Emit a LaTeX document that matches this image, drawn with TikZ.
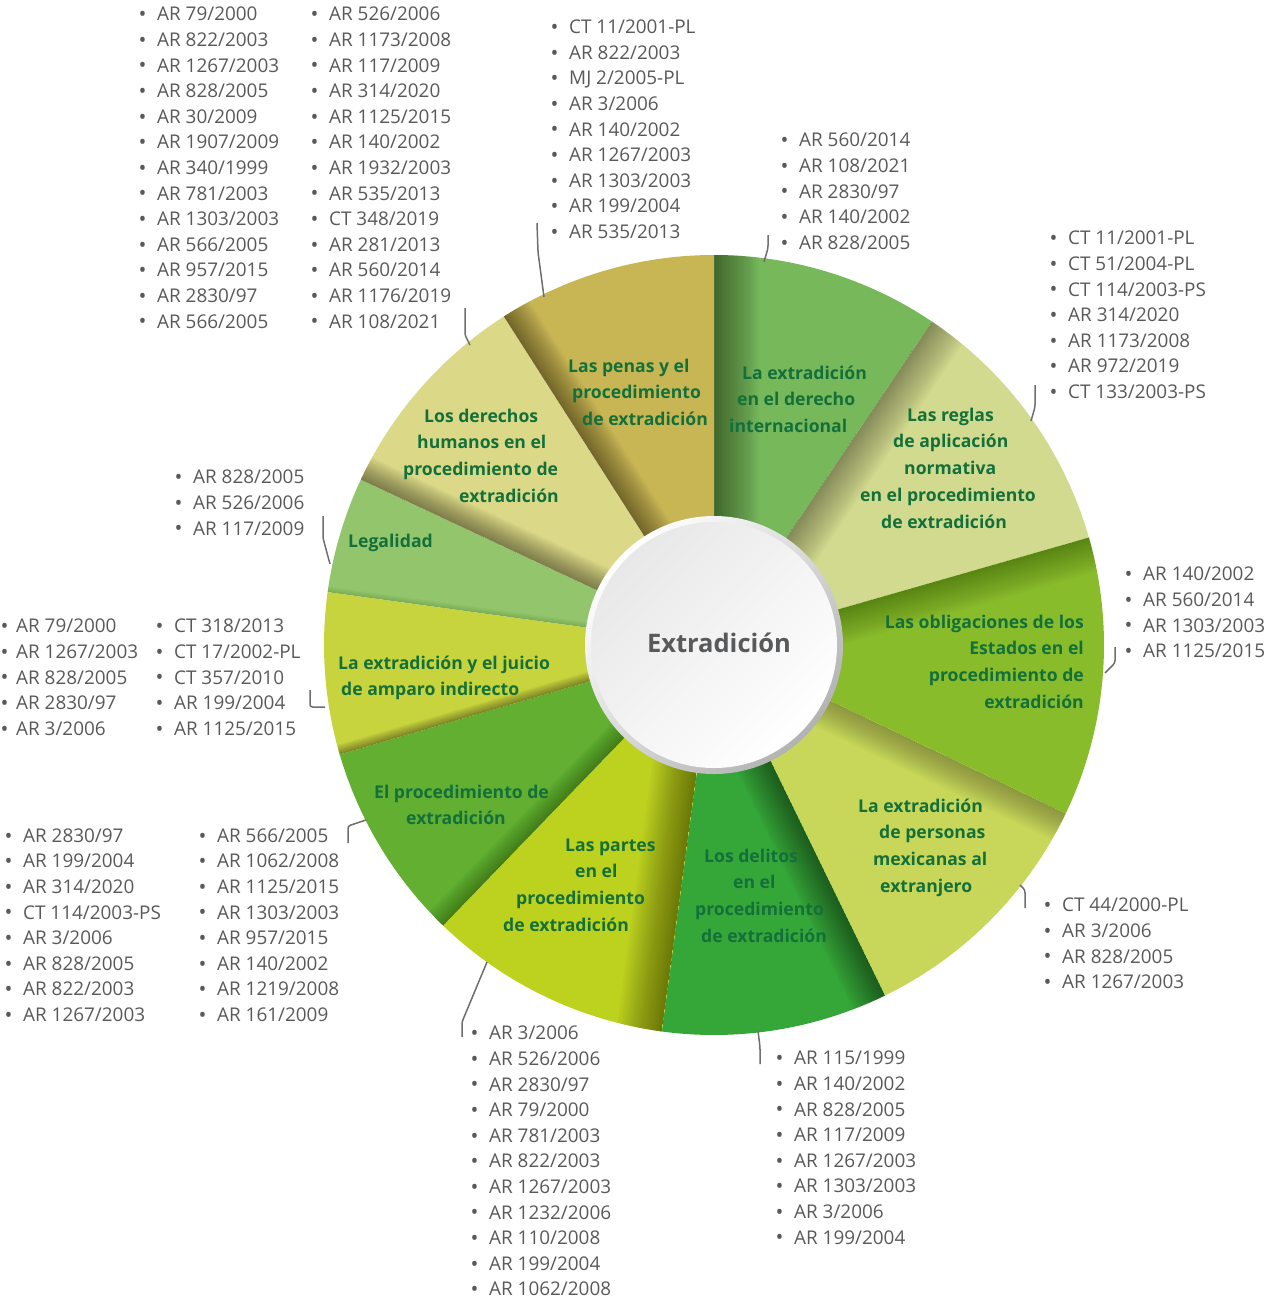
\documentclass[tikz,border=0pt]{standalone}
\usepackage{fontspec}
\setmainfont{Open Sans}
\usetikzlibrary{calc}
\definecolor{cInt}{HTML}{77B85B}
\definecolor{cReg}{HTML}{D2DA8F}
\definecolor{cObl}{HTML}{88BC2B}
\definecolor{cMex}{HTML}{C8D75A}
\definecolor{cDel}{HTML}{35A739}
\definecolor{cPar}{HTML}{BDD11F}
\definecolor{cPro}{HTML}{62AF31}
\definecolor{cJui}{HTML}{C7D43D}
\definecolor{cLeg}{HTML}{92C56C}
\definecolor{cDer}{HTML}{DBD987}
\definecolor{cPen}{HTML}{C8B655}
\definecolor{lblgreen}{HTML}{14703A}
\definecolor{txtgray}{HTML}{58595B}
\definecolor{linegray}{HTML}{6D6E70}
\newcommand\blt{\makebox[17pt][l]{\hspace*{-1.5pt}\raisebox{-0.8pt}{\fontsize{21}{21}\selectfont •}}}
\newcommand\bltn{\makebox[14pt][l]{\hspace*{-1.5pt}\raisebox{-0.8pt}{\fontsize{21}{21}\selectfont •}}}
\newcommand\st{\rule{0pt}{15pt}}
% sector: #1 shadow-edge angle, #2 other angle, #3 colour, #4 shadow width, #5 band opacity
\newcommand\wsector[5]{%
  \fill[#3] (0,0) -- (#1:390) arc[start angle=#1, end angle=#2, radius=390] -- cycle;
  \begin{scope}
    \clip (0,0) -- (#1:390) arc[start angle=#1, end angle=#2, radius=390] -- cycle;
    \foreach \k in {1,...,24}{%
      \pgfmathsetmacro\dd{#4*\k/24}%
      \fill[black, fill opacity=#5] (0,0) -- ++(#1:400) -- ++(#1+90:\dd) -- ++(#1+180:400) -- cycle;
    }
  \end{scope}
}
\tikzset{
  lst/.style={font=\fontsize{18.9}{25.6}\selectfont, text=txtgray, align=left, inner sep=0pt, anchor=north west},
  lbl/.style={font=\fontsize{17.6}{26.7}\selectfont\bfseries, text=lblgreen, align=left, inner sep=0pt, anchor=north west},
  leader/.style={draw=linegray, line width=1.5pt, rounded corners=2.5pt},
}
\begin{document}
\begin{tikzpicture}[x=1pt,y=-1pt]
\useasboundingbox (0,0) rectangle (1280,1301);
% wheel
\begin{scope}[shift={(714,645)}]
  \wsector{-90}{-56}{cInt}{45}{0.0197}
  \wsector{-56}{-16}{cReg}{38}{0.0159}
  \wsector{-16}{25.6}{cObl}{35}{0.0119}
  \wsector{25.6}{64}{cMex}{30}{0.0136}
  \wsector{64}{97.7}{cDel}{35}{0.0178}
  \wsector{97.7}{134}{cPar}{45}{0.0197}
  \wsector{134}{163.7}{cPro}{20}{0.0136}
  \wsector{163.7}{187.8}{cJui}{10}{0.0148}
  \wsector{187.8}{205.1}{cLeg}{6}{0.0053}
  \wsector{205.1}{237.4}{cDer}{25}{0.0178}
  \wsector{237.4}{270}{cPen}{30}{0.0211}
  \shade[top color=white, bottom color=black!30, shading angle=45] (0,0) circle[radius=129];
  \shade[top color=black!9, bottom color=white, shading angle=45] (0,0) circle[radius=123];
\end{scope}
\node[font=\fontsize{25.5}{30}\selectfont\bfseries, text=txtgray, anchor=base, inner sep=0pt] (ctr) at (719,652) {Extradición};
% labels in the sectors
\node[lbl] (tInt) at (729,364) {\st\hspace*{13pt}La extradición\\\hspace*{8pt}en el derecho\\internacional};
\node[lbl] (tReg) at (860,406) {\st\hspace*{47pt}Las reglas\\\hspace*{33pt}de aplicación\\\hspace*{44pt}normativa\\en el procedimiento\\\hspace*{21pt}de extradición};
\node[lbl, align=right, anchor=north east] (tObl) at (1084,613) {\st Las obligaciones de los\\Estados en el\\procedimiento de\\extradición};
\node[lbl] (tMex) at (858,797) {\st La extradición\\\hspace*{21pt}de personas\\\hspace*{15pt}mexicanas al\\\hspace*{22pt}extranjero};
\node[lbl] (tDel) at (695,847) {\st\hspace*{9pt}Los delitos\\\hspace*{38pt}en el\\procedimiento\\\hspace*{6pt}de extradición};
\node[lbl] (tPar) at (503,836) {\st\hspace*{62pt}Las partes\\\hspace*{72pt}en el\\\hspace*{13pt}procedimiento\\de extradición};
\node[lbl] (tPro) at (374,783) {\st El procedimiento de\\\hspace*{32pt}extradición};
\node[lbl] (tJui) at (338,654) {\st La extradición y el juicio\\\hspace*{3pt}de amparo indirecto};
\node[lbl] (tLeg) at (348,532) {\st Legalidad};
\node[lbl] (tDer) at (403,407) {\st\hspace*{21pt}Los derechos\\\hspace*{14pt}humanos en el\\procedimiento de\\\hspace*{56pt}extradición};
\node[lbl] (tPen) at (568,357) {\st Las penas y el\\\hspace*{4pt}procedimiento\\\hspace*{14pt}de extradición};
% lists
\node[lst] (lA1) at (140,5.7) {\st\blt AR 79/2000\\\blt AR 822/2003\\\blt AR 1267/2003\\\blt AR 828/2005\\\blt AR 30/2009\\\blt AR 1907/2009\\\blt AR 340/1999\\\blt AR 781/2003\\\blt AR 1303/2003\\\blt AR 566/2005\\\blt AR 957/2015\\\blt AR 2830/97\\\blt AR 566/2005};
\node[lst] (lA2) at (312,5.7) {\st\blt AR 526/2006\\\blt AR 1173/2008\\\blt AR 117/2009\\\blt AR 314/2020\\\blt AR 1125/2015\\\blt AR 140/2002\\\blt AR 1932/2003\\\blt AR 535/2013\\\blt CT 348/2019\\\blt AR 281/2013\\\blt AR 560/2014\\\blt AR 1176/2019\\\blt AR 108/2021};
\node[lst] (lB) at (552,18.4) {\st\blt CT 11/2001-PL\\\blt AR 822/2003\\\blt MJ 2/2005-PL\\\blt AR 3/2006\\\blt AR 140/2002\\\blt AR 1267/2003\\\blt AR 1303/2003\\\blt AR 199/2004\\\blt AR 535/2013};
\node[lst] (lC) at (782,131.7) {\st\blt AR 560/2014\\\blt AR 108/2021\\\blt AR 2830/97\\\blt AR 140/2002\\\blt AR 828/2005};
\node[lst] (lD) at (1051,229.7) {\st\blt CT 11/2001-PL\\\blt CT 51/2004-PL\\\blt CT 114/2003-PS\\\blt AR 314/2020\\\blt AR 1173/2008\\\blt AR 972/2019\\\blt CT 133/2003-PS};
\node[lst] (lE) at (1126,565.7) {\st\blt AR 140/2002\\\blt AR 560/2014\\\blt AR 1303/2003\\\blt AR 1125/2015};
\node[lst] (lF) at (1045,896.7) {\st\blt CT 44/2000-PL\\\blt AR 3/2006\\\blt AR 828/2005\\\blt AR 1267/2003};
\node[lst] (lG) at (777,1049.7) {\st\blt AR 115/1999\\\blt AR 140/2002\\\blt AR 828/2005\\\blt AR 117/2009\\\blt AR 1267/2003\\\blt AR 1303/2003\\\blt AR 3/2006\\\blt AR 199/2004};
\node[lst] (lH) at (472,1024.7) {\st\blt AR 3/2006\\\blt AR 526/2006\\\blt AR 2830/97\\\blt AR 79/2000\\\blt AR 781/2003\\\blt AR 822/2003\\\blt AR 1267/2003\\\blt AR 1232/2006\\\blt AR 110/2008\\\blt AR 199/2004\\\blt AR 1062/2008};
\node[lst] (lI1) at (6,827) {\st\blt AR 2830/97\\\blt AR 199/2004\\\blt AR 314/2020\\\blt CT 114/2003-PS\\\blt AR 3/2006\\\blt AR 828/2005\\\blt AR 822/2003\\\blt AR 1267/2003};
\node[lst] (lI2) at (200,827) {\st\blt AR 566/2005\\\blt AR 1062/2008\\\blt AR 1125/2015\\\blt AR 1303/2003\\\blt AR 957/2015\\\blt AR 140/2002\\\blt AR 1219/2008\\\blt AR 161/2009};
\node[lst] (lJ1) at (2,617.7) {\st\bltn AR 79/2000\\\bltn AR 1267/2003\\\bltn AR 828/2005\\\bltn AR 2830/97\\\bltn AR 3/2006};
\node[lst] (lJ2) at (157,617.7) {\st\blt CT 318/2013\\\blt CT 17/2002-PL\\\blt CT 357/2010\\\blt AR 199/2004\\\blt AR 1125/2015};
\node[lst] (lK) at (176,468.7) {\st\blt AR 828/2005\\\blt AR 526/2006\\\blt AR 117/2009};
% leader lines
\coordinate (a0) at (470,345); \coordinate (a1) at (465,335); \coordinate (a2) at (465,308);
\draw[leader] (a0) -- (a1) -- (a2);
\coordinate (b0) at (544,297); \coordinate (b1) at (538,252); \coordinate (b2) at (537,223);
\draw[leader] (b0) -- (b1) -- (b2);
\coordinate (c0) at (764,262); \coordinate (c1) at (768,248); \coordinate (c2) at (768,235);
\draw[leader] (c0) -- (c1) -- (c2);
\coordinate (d0) at (1031,421); \coordinate (d1) at (1035,407); \coordinate (d2) at (1035,385);
\draw[leader] (d0) -- (d1) -- (d2);
\coordinate (e0) at (1105,673); \coordinate (e1) at (1115,663); \coordinate (e2) at (1115,647);
\draw[leader] (e0) -- (e1) -- (e2);
\coordinate (f0) at (1020,885); \coordinate (f1) at (1025,890); \coordinate (f2) at (1025,908);
\draw[leader] (f0) -- (f1) -- (f2);
\coordinate (g0) at (758,1031); \coordinate (g1) at (760,1047); \coordinate (g2) at (760,1064);
\draw[leader] (g0) -- (g1) -- (g2);
\coordinate (h0) at (487,962); \coordinate (h1) at (462,1022); \coordinate (h2) at (462,1037);
\draw[leader] (h0) -- (h1) -- (h2);
\coordinate (i0) at (366,820); \coordinate (i1) at (348,826); \coordinate (i2) at (348,843);
\draw[leader] (i0) -- (i1) -- (i2);
\coordinate (j0) at (325,707); \coordinate (j1) at (310,707); \coordinate (j2) at (310,690);
\draw[leader] (j0) -- (j1) -- (j2);
\coordinate (k0) at (330,564); \coordinate (k1) at (323,538); \coordinate (k2) at (323,516);
\draw[leader] (k0) -- (k1) -- (k2);
\end{tikzpicture}
\end{document}
